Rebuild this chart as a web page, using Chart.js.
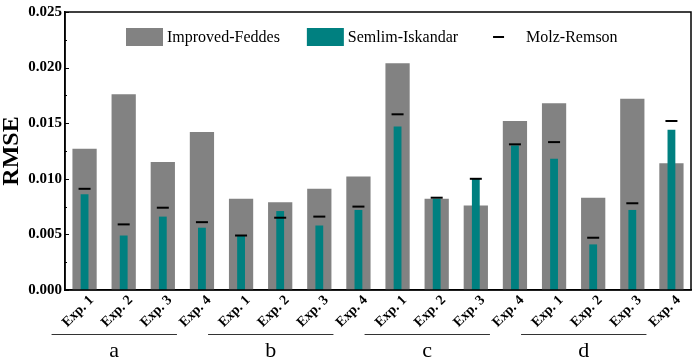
<!DOCTYPE html>
<html>
<head>
<meta charset="utf-8">
<script src="https://cdn.jsdelivr.net/npm/chart.js@4.4.1/dist/chart.umd.min.js"></script>
<style>
  html, body { margin: 0; padding: 0; background: #fff; }
</style>
</head>
<body>
<canvas id="rmseCanvas" width="699" height="360"></canvas>
<script>
// RMSE par groupe / expérience
const groups = ["a", "b", "c", "d"];
const experiments = ["Exp. 1", "Exp. 2", "Exp. 3", "Exp. 4"];

const improvedFeddes = [0.0127, 0.0176, 0.0115, 0.0142,
                        0.0082, 0.0079, 0.0091, 0.0102,
                        0.0204, 0.0082, 0.0076, 0.0152,
                        0.0168, 0.0083, 0.0172, 0.0114];
const semlimIskandar = [0.0086, 0.0049, 0.0066, 0.0056,
                        0.0049, 0.0071, 0.0058, 0.0072,
                        0.0147, 0.0082, 0.0100, 0.0130,
                        0.0118, 0.0041, 0.0072, 0.0144];
const molzRemson = [0.0091, 0.0059, 0.0074, 0.0061,
                    0.0049, 0.0065, 0.0066, 0.0075,
                    0.0158, 0.0083, 0.0100, 0.0131,
                    0.0133, 0.0047, 0.0078, 0.0152];

const yMax = 0.025;
const yStep = 0.005;

const labels = groups.flatMap(() => experiments);

const serif = "'Liberation Serif', 'Times New Roman', serif";
const grey = "rgb(130, 130, 130)";
const teal = "rgb(0, 128, 128)";

// legend, frame, inner ticks, group labels
const extras = {
    id: "extras",
    afterDraw(chart) {
        const ctx = chart.ctx;
        const area = chart.chartArea;
        const x = chart.scales.x;
        const y = chart.scales.y;
        ctx.save();

        // frame
        ctx.strokeStyle = "#000";
        ctx.lineWidth = 1.5;
        ctx.strokeRect(area.left, area.top, area.right - area.left, area.bottom - area.top);

        // y ticks, pointing inward
        ctx.lineWidth = 1;
        for (let k = 0; k * yStep / 2 <= yMax + 1e-9; k++) {
            const v = k * yStep / 2;
            const py = Math.round(y.getPixelForValue(v)) + 0.5;
            const len = k % 2 === 0 ? 4 : 2;
            ctx.beginPath();
            ctx.moveTo(area.left, py);
            ctx.lineTo(area.left + len, py);
            ctx.stroke();
        }

        // legend
        ctx.font = "16px " + serif;
        ctx.textBaseline = "middle";
        ctx.textAlign = "left";
        const ly = area.top + 25;
        let lx = area.left + 61;
        const items = [
            { text: "Improved-Feddes", kind: "box", color: grey },
            { text: "Semlim-Iskandar", kind: "box", color: teal },
            { text: "Molz-Remson", kind: "dash", color: "#000" },
        ];
        items.forEach((it) => {
            if (it.kind === "box") {
                ctx.fillStyle = it.color;
                ctx.fillRect(lx, ly - 9, 37, 18);
            } else {
                ctx.strokeStyle = "#000";
                ctx.lineWidth = 2;
                ctx.beginPath();
                ctx.moveTo(lx + 8, ly);
                ctx.lineTo(lx + 19, ly);
                ctx.stroke();
            }
            lx += 41;
            ctx.fillStyle = "#000";
            ctx.fillText(it.text, lx, ly + 1);
            lx += ctx.measureText(it.text).width + 27;
        });

        // group lines + letters
        ctx.font = "22px " + serif;
        ctx.textAlign = "center";
        ctx.textBaseline = "alphabetic";
        ctx.strokeStyle = "#333";
        ctx.lineWidth = 1;
        groups.forEach((g, i) => {
            const x1 = x.getPixelForValue(i * 4) - 33;
            const x2 = x.getPixelForValue(i * 4 + 3) - 25;
            ctx.beginPath();
            ctx.moveTo(x1, 334.5);
            ctx.lineTo(x2, 334.5);
            ctx.stroke();
            ctx.fillStyle = "#000";
            ctx.fillText(g, (x1 + x2) / 2, 357);
        });

        ctx.restore();
    },
};

const rmseChart = new Chart(document.getElementById("rmseCanvas"), {
    data: {
        labels: labels,
        datasets: [
            {
                type: "line",
                label: "Molz-Remson",
                data: molzRemson,
                showLine: false,
                pointStyle: "line",
                pointRadius: 6,
                pointBorderWidth: 2,
                borderColor: "#000",
                backgroundColor: "#000",
                order: 0,
            },
            {
                type: "bar",
                label: "Semlim-Iskandar",
                data: semlimIskandar,
                backgroundColor: teal,
                grouped: false,
                barPercentage: 0.2,
                categoryPercentage: 1,
                order: 1,
            },
            {
                type: "bar",
                label: "Improved-Feddes",
                data: improvedFeddes,
                backgroundColor: grey,
                grouped: false,
                barPercentage: 0.62,
                categoryPercentage: 1,
                order: 2,
            },
        ],
    },
    options: {
        responsive: false,
        animation: false,
        layout: { padding: { top: 7, right: 7, left: 0, bottom: 0 } },
        plugins: {
            legend: { display: false },
            tooltip: { enabled: false },
        },
        scales: {
            x: {
                grid: { display: false, drawTicks: false },
                border: { display: true, color: "#000", width: 1.5 },
                ticks: {
                    color: "#000",
                    font: { family: serif, size: 14, weight: "bold" },
                    minRotation: 45,
                    maxRotation: 45,
                    padding: 2,
                    labelOffset: 7,
                    autoSkip: false,
                },
                afterFit(scale) { scale.height = 70; },
            },
            y: {
                min: 0,
                max: yMax,
                grid: { display: false, drawTicks: false },
                border: { display: true, color: "#000", width: 1.5 },
                ticks: {
                    stepSize: yStep,
                    color: "#000",
                    padding: 3,
                    font: { family: serif, size: 15, weight: "bold" },
                    callback: (v) => Number(v).toFixed(3),
                },
                title: {
                    display: true,
                    text: "RMSE",
                    color: "#000",
                    font: { family: serif, size: 24, weight: "bold", lineHeight: 1 },
                    padding: { top: 0, bottom: 0 },
                },
                afterFit(scale) { scale.width = 65; },
            },
        },
    },
    plugins: [extras],
});
</script>
</body>
</html>
